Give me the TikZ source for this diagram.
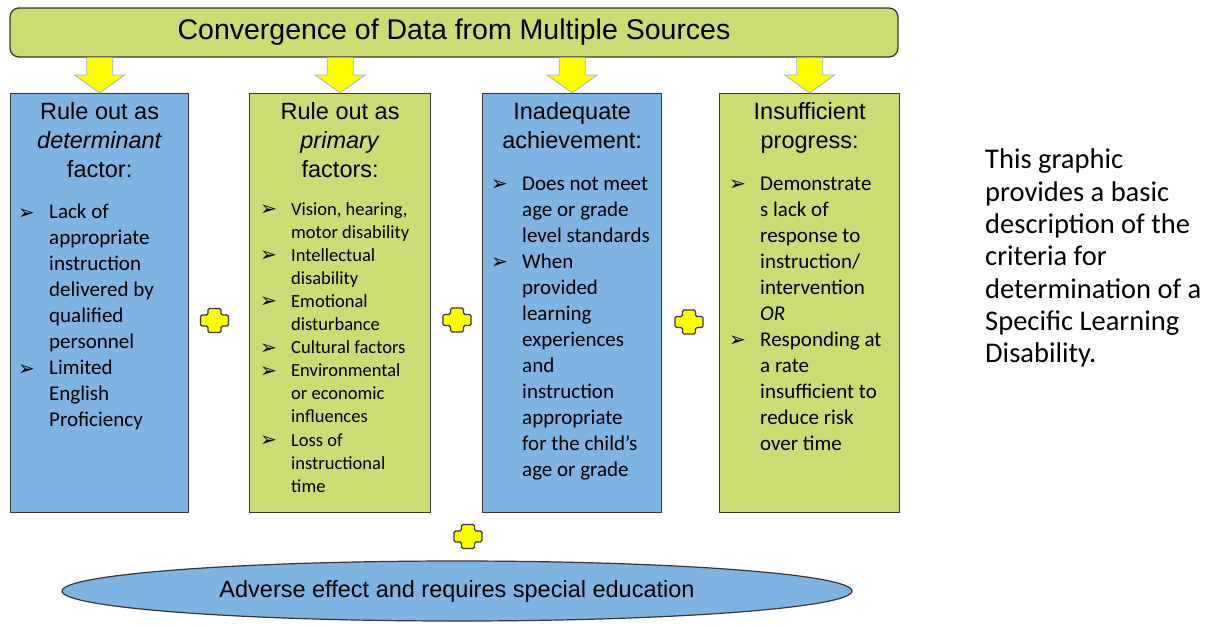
\documentclass[tikz,border=0pt]{standalone}
\usepackage{fontspec}
\setmainfont{Liberation Sans}
\newfontfamily\bodyfont{Carlito}
\newfontfamily\dingfont{DejaVu Sans}
\usetikzlibrary{shapes.geometric,calc}

\definecolor{boxblue}{RGB}{127,179,225}
\definecolor{boxgreen}{RGB}{204,219,115}
\definecolor{signyellow}{RGB}{255,255,0}
\definecolor{arrowedge}{RGB}{150,180,210}
\definecolor{edgegray}{RGB}{55,55,55}

% list bullets
\newcommand{\bul}{\makebox[31pt][l]{\smash{\raisebox{-0.5pt}{\dingfont\fontsize{20}{20}\selectfont ➢}}}}
\newcommand{\ind}{\hspace*{31pt}}

% yellow block arrow from a point on the banner down to a tip
\newcommand{\blockarrow}[2]{%
  \draw[yarrow] ($(#1)+(-13,0)$) -- ($(#2)+(-13,-18)$) -- ($(#2)+(-25,-18)$)
    -- (#2) -- ($(#2)+(25,-18)$) -- ($(#2)+(13,-18)$) -- ($(#1)+(13,0)$) -- cycle;}

% yellow plus sign around a point
\newcommand{\plusmark}[1]{%
  \draw[plussign] ($(#1)+(-6.5,-12)$) -- ++(13,0) -- ++(0,6.5) -- ++(7.5,0)
    -- ++(0,11) -- ++(-7.5,0) -- ++(0,6.5) -- ++(-13,0) -- ++(0,-6.5) -- ++(-7.5,0)
    -- ++(0,-11) -- ++(7.5,0) -- cycle;}

\begin{document}
\begin{tikzpicture}[x=1pt,y=-1pt,
    box/.style={draw=edgegray, line width=1.3pt, inner sep=0, anchor=north west},
    bluebox/.style={box, fill=boxblue},
    greenbox/.style={box, fill=boxgreen},
    yarrow/.style={fill=signyellow, draw=arrowedge, line width=0.8pt},
    plussign/.style={fill=signyellow, draw=edgegray, line width=1.2pt, rounded corners=1.5pt},
    head/.style={font=\fontsize{23.5}{29}\selectfont, align=center, anchor=north, inner sep=0},
    list/.style={font=\bodyfont\fontsize{21}{26}\selectfont, align=left, anchor=north west, inner sep=0}]
  \useasboundingbox (0,0) rectangle (1215,625);

  % banner on top
  \node[draw=edgegray, line width=1.3pt, fill=boxgreen, rounded corners=9pt,
    minimum width=888, minimum height=49, inner sep=0,
    font=\fontsize{28.5}{32}\selectfont] (banner) at (454,32.5)
    {Convergence of Data from Multiple Sources};

  % the four criteria boxes
  \node[bluebox, minimum width=178, minimum height=419] (det) at (10,93) {};
  \node[greenbox, minimum width=181, minimum height=419] (prim) at (249,93) {};
  \node[bluebox, minimum width=179, minimum height=419] (ach) at (482,93) {};
  \node[greenbox, minimum width=180, minimum height=419] (prog) at (719,93) {};

  % arrows from the banner
  \blockarrow{banner.south -| det.north}{det.north}
  \blockarrow{banner.south -| prim.north}{prim.north}
  \blockarrow{banner.south -| ach.north}{ach.north}
  \blockarrow{banner.south -| prog.north}{prog.north}

  % headings
  \node[head] (dethead) at (det.north |- 0,102.5) {Rule out as\\\textit{determinant}\\factor:};
  \node[head] (primhead) at (prim.north |- 0,102.5) {Rule out as\\\textit{primary}\\factors:};
  \node[head] (achhead) at (ach.north |- 0,102.5) {Inadequate\\achievement:};
  \node[head] (proghead) at (prog.north |- 0,102.5) {Insufficient\\progress:};

  % lists
  \node[list] (detlist) at (18,204) {\bul Lack of\\\ind appropriate\\\ind instruction\\
    \ind delivered by\\\ind qualified\\\ind personnel\\\bul Limited\\\ind English\\
    \ind Proficiency};
  \node[list, font=\bodyfont\fontsize{18.5}{23.1}\selectfont] (primlist) at (260,202)
    {\bul Vision, hearing,\\\ind motor disability\\\bul Intellectual\\\ind disability\\
    \bul Emotional\\\ind disturbance\\\bul Cultural factors\\\bul Environmental\\
    \ind or economic\\\ind influences\\\bul Loss of\\\ind instructional\\\ind time};
  \node[list] (achlist) at (491,176.5) {\bul Does not meet\\\ind age or grade\\
    \ind level standards\\\bul When\\\ind provided\\\ind learning\\\ind experiences\\
    \ind and\\\ind instruction\\\ind appropriate\\\ind for the child’s\\\ind age or grade};
  \node[list] (proglist) at (729,176.5) {\bul Demonstrate\\\ind s lack of\\
    \ind response to\\\ind instruction/\\\ind intervention\\\ind \textit{OR}\\
    \bul Responding at\\\ind a rate\\\ind insufficient to\\\ind reduce risk\\\ind over time};

  % plus signs
  \plusmark{214.5,320.5}
  \plusmark{457,320}
  \plusmark{689,322}
  \plusmark{468,536.5}

  % result
  \node[ellipse, draw=edgegray, line width=1.2pt, fill=boxblue, minimum width=790,
    minimum height=60, inner sep=0, font=\fontsize{23.5}{28}\selectfont]
    (effect) at (457,591) {Adverse effect and requires special education};

  % side note
  \node[anchor=north west, inner sep=0, align=left,
    font=\bodyfont\fontsize{28.5}{32.3}\selectfont] (note) at (985,149)
    {This graphic\\provides a basic\\description of the\\criteria for\\
    determination of a\\Specific Learning\\Disability.};
\end{tikzpicture}
\end{document}
